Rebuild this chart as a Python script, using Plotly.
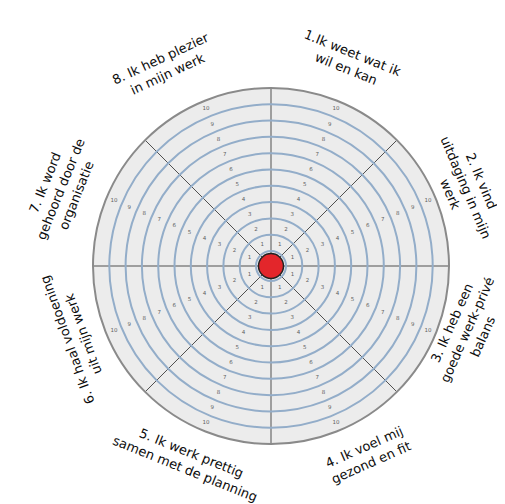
import math
import plotly.graph_objects as go

# ---- data ----
categories = [
    "1.Ik weet wat ik<br>wil en kan",
    "2. Ik vind<br>uitdaging in mijn<br>werk",
    "3. Ik heb een<br>goede werk-privé<br>balans",
    "4. Ik voel mij<br>gezond en fit",
    "5. Ik werk prettig<br>samen met de planning",
    "6. Ik haal voldoening<br>uit mijn werk",
    "7. Ik word<br>gehoord door de<br>organisatie",
    "8. Ik heb plezier<br>in mijn werk",
]
sector_angles = [22.5, 67.5, 112.5, 157.5, 202.5, 247.5, 292.5, 337.5]
spoke_angles = [0, 45, 90, 135, 180, 225, 270, 315]
scale_values = [1, 2, 3, 4, 5, 6, 7, 8, 9, 10]
ring_bounds = [0.5, 1.5, 2.5, 3.5, 4.5, 5.5, 6.5, 7.5, 8.5, 9.5]
score = [0]  # red dot at the centre

# ---- layout constants ----
W, H = 505, 504
CX, CY = 263, 246          # centre in px (y from bottom)
R = 178                    # outer radius px
R_MIN = -0.42
R_MAX = 10.5

fig = go.Figure()

# number labels in every sector
th, rr, tx = [], [], []
for a in sector_angles:
    for v in scale_values:
        th.append(a)
        rr.append(v)
        tx.append(str(v))
fig.add_trace(go.Scatterpolar(
    r=rr, theta=th, text=tx, mode="text",
    textfont=dict(family="DejaVu Sans", size=5.5, color="#5f5f5f"),
    hoverinfo="skip", showlegend=False,
))

# red dot at the centre
fig.add_trace(go.Scatterpolar(
    r=[R_MIN + s for s in score], theta=[0], mode="markers",
    marker=dict(size=25, color="#e3262b", line=dict(color="#222222", width=1.5)),
    hoverinfo="skip", showlegend=False,
))

fig.update_layout(
    width=W, height=H,
    margin=dict(l=0, r=0, t=0, b=0),
    paper_bgcolor="white",
    showlegend=False,
    polar=dict(
        domain=dict(x=[(CX - R) / W, (CX + R) / W], y=[(CY - R) / H, (CY + R) / H]),
        bgcolor="#ececec",
        radialaxis=dict(
            range=[R_MIN, R_MAX], tickvals=ring_bounds, showticklabels=False,
            ticks="", showline=False, gridcolor="#93adc9", gridwidth=1.5,
        ),
        angularaxis=dict(
            rotation=90, direction="clockwise", tickvals=spoke_angles,
            showticklabels=False, ticks="", showline=True,
            linecolor="#8a8a8a", linewidth=2, gridcolor="#505050", gridwidth=1,
        ),
    ),
)

# outer labels, rotated tangentially
label_pos = [  # (angle deg clockwise from top, radius px, text rotation)
    (21, 220, 22),
    (68, 210, 67),
    (108, 207, -66),
    (153, 212, -24),
    (203, 212, 22),
    (250, 208, -110),
    (290, 224, -68),
    (-28, 226, -25),
]
for txt, (a, rp, rot) in zip(categories, label_pos):
    x = (CX + rp * math.sin(math.radians(a))) / W
    y = (CY + rp * math.cos(math.radians(a))) / H
    fig.add_annotation(
        x=x, y=y, xref="paper", yref="paper", text=txt, showarrow=False,
        textangle=rot, xanchor="center", yanchor="middle",
        font=dict(family="DejaVu Sans", size=13, color="#0d0d0d"),
    )

fig.write_html("out.html")
